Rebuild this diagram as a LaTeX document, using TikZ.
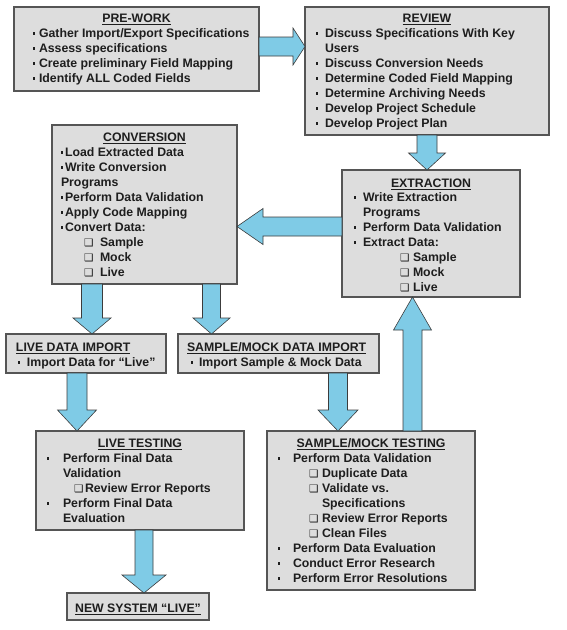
\documentclass[tikz,border=0pt]{standalone}
\usepackage{fontspec}
\setmainfont{Liberation Sans}
\newfontfamily\dejavu{DejaVu Sans}
\usetikzlibrary{calc}
\definecolor{boxfill}{RGB}{221,221,221}
\definecolor{boxdraw}{RGB}{85,85,85}
\definecolor{arrfill}{RGB}{127,203,230}
\definecolor{arrdraw}{RGB}{60,60,60}
\definecolor{textcol}{RGB}{30,30,30}
\newcommand\bul[1]{\makebox[#1][l]{\rule[3pt]{2.4pt}{2.4pt}}}
\newcommand\cb{{\dejavu\fontsize{10.5}{15}\selectfont ❑}}
\newcommand\barrow[5]{%
  \coordinate (ah) at ($(#2)!#5!(#1)$);
  \draw[blockarrow] ($(#1)!#3!90:(#2)$) -- ($(ah)!#3!-90:(#1)$) -- ($(ah)!#4!-90:(#1)$) -- (#2)
    -- ($(ah)!#4!90:(#1)$) -- ($(ah)!#3!90:(#1)$) -- ($(#1)!#3!-90:(#2)$) -- cycle;}
\tikzset{
  box/.style={draw=boxdraw, fill=boxfill, line width=1.2pt, inner sep=0pt, outer sep=0pt, anchor=north west},
  blockarrow/.style={fill=arrfill, draw=arrdraw, line width=0.6pt, line join=miter},
  txt/.style={font=\fontsize{12.3}{15}\selectfont\bfseries, text=textcol, inner sep=0pt, outer sep=0pt, align=left, anchor=base west},
  ttl/.style={font=\fontsize{12.3}{15}\selectfont\bfseries, text=textcol, inner sep=0pt, outer sep=0pt, anchor=base}
}
\begin{document}
\begin{tikzpicture}[x=1pt,y=-1pt]
\useasboundingbox (0,0) rectangle (566,630);
% boxes
\node[box, minimum width=245pt, minimum height=84pt] (prework) at (14,7) {};
\node[box, minimum width=244pt, minimum height=128pt] (review) at (305,7) {};
\node[box, minimum width=185pt, minimum height=159pt] (conv) at (52,125) {};
\node[box, minimum width=178pt, minimum height=127pt] (extr) at (342,170) {};
\node[box, minimum width=160pt, minimum height=39pt] (liveimp) at (6,334) {};
\node[box, minimum width=201pt, minimum height=39pt] (smimp) at (178,334) {};
\node[box, minimum width=208pt, minimum height=99pt] (livetest) at (36,431) {};
\node[box, minimum width=208pt, minimum height=159pt] (smtest) at (267,431) {};
\node[box, minimum width=142pt, minimum height=27pt] (newsys) at (67,593) {};
% arrows
\coordinate (a1s) at ([yshift=2.5pt]prework.east); \coordinate (a1e) at (a1s -| review.west);
\barrow{a1s}{a1e}{9.5pt}{18.5pt}{12pt}
\coordinate (a2s) at (review.south); \coordinate (a2e) at (a2s |- extr.north);
\barrow{a2s}{a2e}{10pt}{18.5pt}{17pt}
\coordinate (a3s) at ([yshift=7pt]extr.west); \coordinate (a3e) at (a3s -| conv.east);
\barrow{a3s}{a3e}{9.5pt}{18pt}{26pt}
\coordinate (a4s) at ([xshift=-52.5pt]conv.south); \coordinate (a4e) at (a4s |- liveimp.north);
\barrow{a4s}{a4e}{10.5pt}{19pt}{16pt}
\coordinate (a5s) at ([xshift=67pt]conv.south); \coordinate (a5e) at (a5s |- smimp.north);
\barrow{a5s}{a5e}{9pt}{18.5pt}{16pt}
\coordinate (a6s) at ([xshift=-9pt]liveimp.south); \coordinate (a6e) at (a6s |- livetest.north);
\barrow{a6s}{a6e}{10pt}{19.5pt}{21pt}
\coordinate (a7s) at ([xshift=59.5pt]smimp.south); \coordinate (a7e) at (a7s |- smtest.north);
\barrow{a7s}{a7e}{9.5pt}{20pt}{21pt}
\coordinate (a8s) at ([xshift=4pt]livetest.south); \coordinate (a8e) at (a8s |- newsys.north);
\barrow{a8s}{a8e}{9pt}{22pt}{18pt}
\coordinate (a9s) at ([xshift=41.5pt]smtest.north); \coordinate (a9e) at (a9s |- extr.south);
\barrow{a9s}{a9e}{9.5pt}{19pt}{33pt}
% texts (multi-line nodes are placed at the baseline of their last line)
\node[ttl] (prework-t) at (136.5,22.5) {\underline{PRE-WORK}};
\node[txt] (prework-b) at (33,82.5) {\bul{6pt}Gather Import/Export Specifications\\
\bul{6pt}Assess specifications\\
\bul{6pt}Create preliminary Field Mapping\\
\bul{6pt}Identify ALL Coded Fields};
\node[ttl] (review-t) at (427,22.5) {\underline{REVIEW}};
\node[txt] (review-b) at (316,127.5) {\bul{9pt}Discuss Specifications With Key\\
\hspace*{9pt}Users\\
\bul{9pt}Discuss Conversion Needs\\
\bul{9pt}Determine Coded Field Mapping\\
\bul{9pt}Determine Archiving Needs\\
\bul{9pt}Develop Project Schedule\\
\bul{9pt}Develop Project Plan};
\node[ttl] (conv-t) at (144.5,141.5) {\underline{CONVERSION}};
\node[txt] (conv-b) at (61,276.5) {\bul{4pt}Load Extracted Data\\
\bul{4pt}Write Conversion\\
Programs\\
\bul{4pt}Perform Data Validation\\
\bul{4pt}Apply Code Mapping\\
\bul{4pt}Convert Data:\\
\hspace*{23pt}\makebox[16pt][l]{\cb}Sample\\
\hspace*{23pt}\makebox[16pt][l]{\cb}Mock\\
\hspace*{23pt}\makebox[16pt][l]{\cb}Live};
\node[ttl] (extr-t) at (431,187.5) {\underline{EXTRACTION}};
\node[txt] (extr-b) at (354,291.5) {\bul{9pt}Write Extraction\\
\hspace*{9pt}Programs\\
\bul{9pt}Perform Data Validation\\
\bul{9pt}Extract Data:\\
\hspace*{46pt}\makebox[13pt][l]{\cb}Sample\\
\hspace*{46pt}\makebox[13pt][l]{\cb}Mock\\
\hspace*{46pt}\makebox[13pt][l]{\cb}Live};
\node[txt] (liveimp-t) at (16,351.5) {\underline{LIVE DATA IMPORT}};
\node[txt] (liveimp-b) at (18,366.5) {\bul{9pt}Import Data for “Live”};
\node[txt] (smimp-t) at (187,351.5) {\underline{SAMPLE/MOCK DATA IMPORT}};
\node[txt] (smimp-b) at (191,366.5) {\bul{8pt}Import Sample \& Mock Data};
\node[ttl] (livetest-t) at (140,447.5) {\underline{LIVE TESTING}};
\node[txt] (livetest-b) at (47,522.5) {\bul{16pt}Perform Final Data\\
\hspace*{16pt}Validation\\
\hspace*{27pt}\makebox[11pt][l]{\cb}Review Error Reports\\
\bul{16pt}Perform Final Data\\
\hspace*{16pt}Evaluation};
\node[ttl] (smtest-t) at (371,447.5) {\underline{SAMPLE/MOCK TESTING}};
\node[txt] (smtest-b) at (278,582.5) {\bul{15pt}Perform Data Validation\\
\hspace*{31pt}\makebox[13pt][l]{\cb}Duplicate Data\\
\hspace*{31pt}\makebox[13pt][l]{\cb}Validate vs.\\
\hspace*{44pt}Specifications\\
\hspace*{31pt}\makebox[13pt][l]{\cb}Review Error Reports\\
\hspace*{31pt}\makebox[13pt][l]{\cb}Clean Files\\
\bul{15pt}Perform Data Evaluation\\
\bul{15pt}Conduct Error Research\\
\bul{15pt}Perform Error Resolutions};
\node[ttl] (newsys-t) at (138,612.5) {\underline{NEW SYSTEM “LIVE”}};
\end{tikzpicture}
\end{document}
